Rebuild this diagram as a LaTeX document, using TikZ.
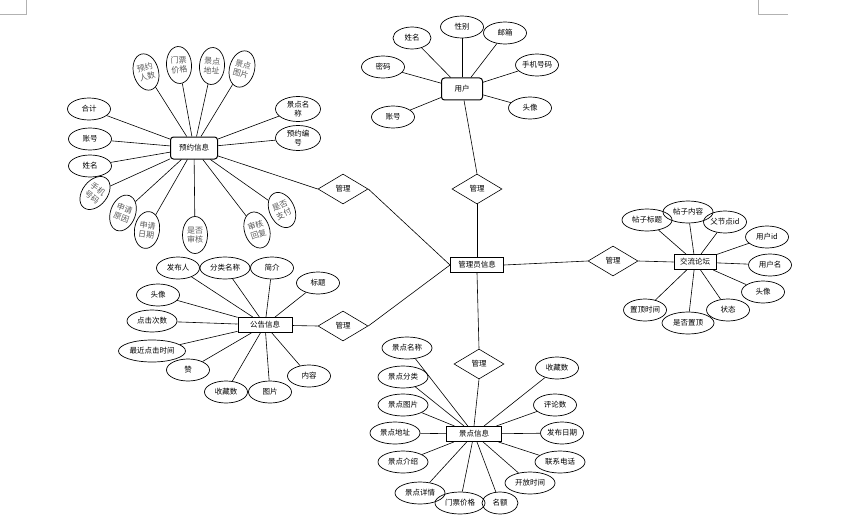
\documentclass[tikz,border=0pt]{standalone}
\usepackage{fontspec}
\setmainfont{Noto Sans CJK SC}
\usetikzlibrary{shapes.geometric}
\tikzset{
  attr/.style={ellipse, draw, line width=0.7pt, inner sep=0pt, minimum width=43pt, minimum height=22pt, font=\fontsize{7.5}{8}\selectfont},
  rattr/.style={ellipse, draw, line width=0.7pt, inner sep=0pt, minimum width=25pt, minimum height=37pt, align=center, text=black!65, font=\fontsize{8}{9.5}\selectfont},
  entr/.style={rectangle, draw, line width=1pt, rounded corners=3pt, minimum width=45pt, minimum height=22pt, font=\fontsize{7.5}{8}\selectfont},
  ents/.style={rectangle, draw, line width=1pt, minimum width=53pt, minimum height=15pt, inner sep=1pt, font=\fontsize{7.5}{8}\selectfont},
  rel/.style={diamond, draw, line width=0.6pt, inner sep=0pt, minimum width=50pt, minimum height=30pt, font=\fontsize{7.5}{8}\selectfont},
  link/.style={line width=0.6pt},
  corner/.style={draw=black!30, line width=0.7pt}
}
\begin{document}
\begin{tikzpicture}[x=1pt,y=-1pt]
\useasboundingbox (0,0) rectangle (850,524);
% page corner marks
\draw[corner] (0,14) -- (26,14) -- (26,0);
\draw[corner] (788,14) -- (758,14) -- (758,0);

% central entity
\node[ents] (admin) at (477,265) {管理员信息};
% relations
\node[rel] (r1) at (343,189) {管理};
\node[rel] (r2) at (477,189) {管理};
\node[rel] (r3) at (343,326) {管理};
\node[rel] (r4) at (479,364) {管理};
\node[rel] (r5) at (613,261) {管理};

% entities
\node[entr, minimum width=47pt] (yy) at (194,148) {预约信息};
\node[entr, minimum width=41pt] (user) at (462,89) {用户};
\node[ents, minimum width=42pt] (lt) at (695,262) {交流论坛};
\node[ents, minimum width=54pt] (gg) at (265,325) {公告信息};
\node[ents, minimum width=55pt] (jd) at (474,434) {景点信息};

% main links
\draw[link] (yy) -- (r1.west);
\draw[link] (r1.east) -- (admin.west);
\draw[link] (gg) -- (r3.west);
\draw[link] (r3.east) -- (admin.west);
\draw[link] (user) -- (r2.north);
\draw[link] (r2.south) -- (admin.north);
\draw[link] (admin.south) -- (r4.north);
\draw[link] (r4.south) -- (jd.north);
\draw[link] (admin.east) -- (r5.west);
\draw[link] (r5.east) -- (lt.west);

% 预约信息 attributes
\node[rattr, rotate=15] (y1) at (146,72) {预约\\人数};
\node[rattr, rotate=4] (y2) at (179,65) {门票\\价格};
\node[rattr, rotate=-4] (y3) at (212,66) {景点\\地址};
\node[rattr, rotate=-15] (y4) at (242,69) {景点\\图片};
\node[attr] (y5) at (89,109) {合计};
\node[attr] (y6) at (90,139) {账号};
\node[attr] (y7) at (90,166) {姓名};
\node[rattr, rotate=-38] (y8) at (95,193) {手机\\号码};
\node[rattr, rotate=-20] (y9) at (123,213) {申请\\原因};
\node[rattr, rotate=-8] (y10) at (147,230) {申请\\日期};
\node[rattr] (y11) at (195,235) {是否\\审核};
\node[rattr, rotate=18] (y12) at (257,230) {审核\\回复};
\node[rattr, rotate=25] (y13) at (282,210) {是否\\支付};
\node[attr, align=center, minimum width=45pt, minimum height=25pt, font=\fontsize{7.5}{9}\selectfont] (y14) at (298,109) {景点名\\称};
\node[attr, align=center, minimum width=45pt, minimum height=25pt, font=\fontsize{7.5}{9}\selectfont] (y15) at (298,138) {预约编\\号};
\foreach \i in {1,...,15} \draw[link] (yy) -- (y\i);

% 用户 attributes
\node[attr, minimum width=38pt] (u1) at (412,38) {姓名};
\node[attr] (u2) at (462,27) {性别};
\node[attr] (u3) at (505,33) {邮箱};
\node[attr] (u4) at (383,67) {密码};
\node[attr] (u5) at (537,65) {手机号码};
\node[attr] (u6) at (530,108) {头像};
\node[attr] (u7) at (393,117) {账号};
\foreach \i in {1,...,7} \draw[link] (user) -- (u\i);

% 交流论坛 attributes
\node[attr, minimum width=50pt] (l1) at (647,220) {帖子标题};
\node[attr, minimum width=50pt] (l2) at (688,212) {帖子内容};
\node[attr] (l3) at (725,222) {父节点id};
\node[attr] (l4) at (767,237) {用户id};
\node[attr] (l5) at (770,265) {用户名};
\node[attr] (l6) at (763,292) {头像};
\node[attr] (l7) at (728,310) {状态};
\node[attr, minimum width=52pt] (l8) at (688,323) {是否置顶};
\node[attr] (l9) at (645,310) {置顶时间};
\foreach \i in {1,...,9} \draw[link] (lt) -- (l\i);

% 公告信息 attributes
\node[attr] (g1) at (178,268) {发布人};
\node[attr, minimum width=50pt] (g2) at (225,268) {分类名称};
\node[attr] (g3) at (272,268) {简介};
\node[attr] (g4) at (318,283) {标题};
\node[attr] (g5) at (158,295) {头像};
\node[attr, minimum width=50pt] (g6) at (152,321) {点击次数};
\node[attr, minimum width=67pt] (g7) at (152,351) {最近点击时间};
\node[attr] (g8) at (188,370) {赞};
\node[attr] (g9) at (226,392) {收藏数};
\node[attr] (g10) at (270,392) {图片};
\node[attr] (g11) at (309,376) {内容};
\foreach \i in {1,...,11} \draw[link] (gg) -- (g\i);

% 景点信息 attributes
\node[attr, minimum width=50pt] (j1) at (407,348) {景点名称};
\node[attr, minimum width=50pt] (j2) at (403,377) {景点分类};
\node[attr, minimum width=50pt] (j3) at (403,405) {景点图片};
\node[attr, minimum width=50pt] (j4) at (395,433) {景点地址};
\node[attr, minimum width=50pt] (j5) at (403,462) {景点介绍};
\node[attr, minimum width=50pt] (j6) at (420,493) {景点详情};
\node[attr, minimum width=50pt] (j7) at (460,503) {门票价格};
\node[attr, minimum width=36pt] (j8) at (500,503) {名额};
\node[attr, minimum width=50pt] (j9) at (530,483) {开放时间};
\node[attr, minimum width=50pt] (j10) at (560,462) {联系电话};
\node[attr] (j11) at (562,433) {发布日期};
\node[attr] (j12) at (555,405) {评论数};
\node[attr] (j13) at (557,368) {收藏数};
\foreach \i in {1,...,13} \draw[link] (jd) -- (j\i);
\end{tikzpicture}
\end{document}
